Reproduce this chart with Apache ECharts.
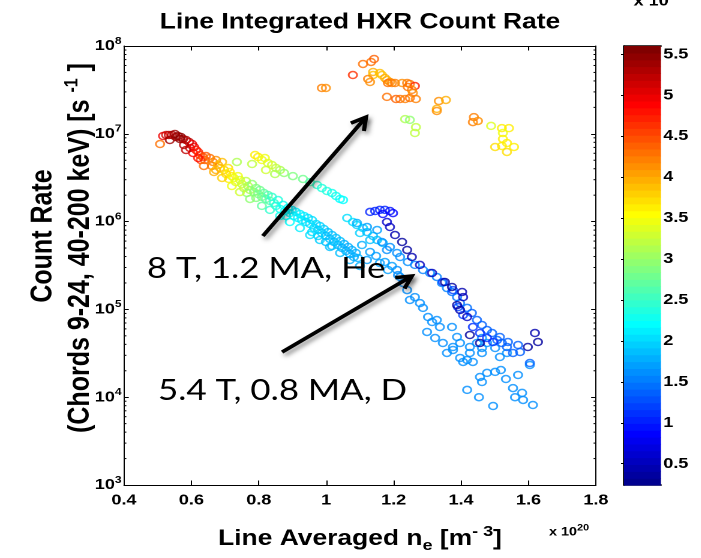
<!DOCTYPE html>
<html>
<head>
<meta charset="utf-8">
<script src="https://cdn.jsdelivr.net/npm/echarts@6/dist/echarts.min.js"></script>
<style>
  html, body { margin: 0; padding: 0; background: #fff; overflow: hidden; }
  /* the source figure is stretched sideways (~1.2x), so draw narrow and widen it */
  #main { width: 584px; height: 558px; transform: scaleX(1.2); transform-origin: 0 0; }
</style>
</head>
<body>
<div id="main"></div>
<script>
// [ line averaged ne (1e20 m^-3), count rate (1/s), colour value ]
var heBand = [
  [0.507,7.65e6,4.3],[0.516,9.44e6,5.0],[0.525,9.69e6,5.1],[0.533,9.69e6,5.2],[0.542,9.69e6,5.3],[0.551,9.95e6,5.4],
  [0.560,9.44e6,5.5],[0.569,9.20e6,5.5],[0.575,8.73e6,5.4],[0.584,8.50e6,5.3],[0.566,8.73e6,5.5],[0.554,9.20e6,5.4],
  [0.593,8.07e6,5.2],[0.602,7.65e6,5.0],[0.596,6.89e6,5.1],[0.608,7.08e6,5.0],[0.614,6.53e6,4.8],[0.605,6.04e6,4.9],
  [0.620,6.21e6,4.7],[0.625,5.74e6,4.6],[0.634,5.44e6,4.5],[0.643,5.58e6,4.5],[0.640,5.03e6,4.4],[0.628,5.03e6,4.6],
  [0.655,5.30e6,4.3],[0.664,4.78e6,4.2],[0.673,5.03e6,4.1],[0.661,4.30e6,4.2],[0.679,4.41e6,4.0],[0.685,4.08e6,3.9],
  [0.691,4.78e6,3.9],[0.673,3.87e6,4.0],[0.697,3.87e6,3.8],[0.703,3.48e6,3.7],[0.709,4.08e6,3.7],[0.714,3.67e6,3.6],
  [0.720,3.30e6,3.6],[0.711,3.06e6,3.6],[0.726,3.14e6,3.5],[0.732,2.82e6,3.4],[0.738,3.30e6,3.5],[0.744,2.98e6,3.4],
  [0.750,2.68e6,3.3],[0.756,2.41e6,3.2],[0.762,2.90e6,3.2],[0.768,2.54e6,3.1],[0.774,2.29e6,3.1],[0.780,2.68e6,3.0],
  [0.786,2.17e6,3.0],[0.792,2.41e6,2.9],[0.798,2.06e6,2.9],[0.803,2.29e6,2.8],[0.809,1.91e6,2.8],[0.815,2.12e6,2.7],
  [0.821,1.81e6,2.7],[0.827,2.01e6,2.6],[0.833,1.72e6,2.6],[0.839,1.91e6,2.5],[0.765,2.12e6,3.0],[0.792,1.86e6,2.9],
  [0.845,1.63e6,2.5],[0.851,1.51e6,2.4],[0.857,1.76e6,2.4],[0.863,1.39e6,2.3],[0.872,1.55e6,2.3],[0.878,1.32e6,2.2],
  [0.886,1.43e6,2.2],[0.892,1.25e6,2.2],[0.898,1.36e6,2.1],[0.904,1.16e6,2.1],[0.910,1.29e6,2.1],[0.916,1.10e6,2.1],
  [0.922,1.22e6,2.1],[0.928,1.04e6,2.1],[0.881,1.16e6,2.2],[0.934,1.16e6,2.1],[0.940,9.89e5,2.05],[0.946,1.10e6,2.05],
  [0.952,9.39e5,2.0],[0.958,1.04e6,2.0],[0.964,8.45e5,2.0],[0.970,9.39e5,2.0],[0.976,8.02e5,1.95],[0.981,8.91e5,1.95],
  [0.987,7.41e5,1.95],[0.993,8.24e5,1.95],[0.999,6.85e5,1.9],[1.005,7.60e5,1.9],[1.011,6.34e5,1.9],[1.017,7.03e5,1.9],
  [1.023,5.86e5,1.85],[1.029,6.50e5,1.85],[1.035,5.41e5,1.85],[1.041,6.01e5,1.85],[1.047,5.00e5,1.8],[1.053,5.56e5,1.8],
  [1.059,4.62e5,1.8],[1.065,5.14e5,1.8],[1.070,4.28e5,1.8],[1.076,4.75e5,1.8],[1.082,3.95e5,1.75],[1.088,4.39e5,1.75],
  [1.094,3.85e5,1.75],[0.958,7.60e5,2.0],[0.976,6.85e5,1.95],[0.999,5.86e5,1.9],[1.017,5.27e5,1.9],[1.106,5.41e5,1.75],
  [1.130,4.51e5,1.7],[1.148,4.06e5,1.7],[1.174,3.47e5,1.7],[1.195,3.12e5,1.7],[1.213,2.46e5,1.65],
  [0.536,8.50e6,5.4],[0.578,7.45e6,5.3],[0.584,6.53e6,5.2],[0.620,5.30e6,4.8],[0.637,4.30e6,4.3],[0.667,3.67e6,4.0],
  [0.691,3.14e6,3.8],[0.720,2.54e6,3.5],[0.744,2.17e6,3.3],[0.774,1.81e6,3.0],[0.809,1.51e6,2.7],[0.833,1.36e6,2.5],
  [0.863,1.16e6,2.3],[0.892,9.89e5,2.2],[0.922,8.45e5,2.1],[0.952,7.03e5,2.0],[0.981,6.17e5,1.95],[1.011,5.14e5,1.9],
  [1.041,4.39e5,1.85],[1.070,3.65e5,1.8],[1.100,3.12e5,1.75]
];
var heBranch = [
  [0.735,4.78e6,3.1],[0.780,4.53e6,3.2],[0.789,5.74e6,3.6],[0.798,5.44e6,3.6],[0.809,5.03e6,3.5],[0.818,5.30e6,3.5],
  [0.827,4.65e6,3.4],[0.839,4.41e6,3.3],[0.821,3.87e6,3.3],[0.851,4.08e6,3.2],[0.848,3.48e6,3.1],[0.863,3.87e6,3.1],
  [0.875,3.58e6,3.0],[0.901,3.30e6,2.9],[0.931,3.06e6,2.8],[0.952,2.82e6,2.6],[0.973,2.61e6,2.5],[0.987,2.41e6,2.4],
  [1.002,2.23e6,2.4],[1.017,2.12e6,2.3],[1.029,1.96e6,2.3],[1.041,1.81e6,2.2],[1.050,1.76e6,2.2],[1.062,1.10e6,2.0],
  [1.079,9.89e5,2.0],[1.091,9.14e5,1.95],[1.109,8.45e5,1.95],[1.100,7.41e5,1.95],[1.121,7.60e5,1.9],[1.139,6.85e5,1.9],
  [1.130,6.17e5,1.9],[1.151,6.17e5,1.9],[1.168,5.71e5,1.85]
];
var heHigh = [
  [0.987,3.32e7,4.2],[0.999,3.32e7,4.1],[1.079,4.67e7,4.6],[1.109,6.24e7,4.3],[1.133,6.58e7,4.3],[1.142,7.11e7,4.4],
  [1.139,5.06e7,4.0],[1.139,4.67e7,3.9],[1.124,4.21e7,4.2],[1.130,3.89e7,4.1],[1.159,4.92e7,3.9],[1.165,4.67e7,3.9],
  [1.174,4.32e7,4.0],[1.180,4.10e7,4.0],[1.189,3.89e7,4.1],[1.195,3.79e7,4.2],[1.183,3.79e7,4.3],[1.204,3.79e7,4.2],
  [1.225,3.79e7,4.1],[1.240,3.79e7,4.2],[1.248,3.69e7,4.3],[1.263,3.50e7,4.7],[1.242,3.41e7,4.3],[1.254,3.16e7,4.2],
  [1.257,2.92e7,4.1],[1.180,2.63e7,4.3],[1.207,2.49e7,4.4],[1.219,2.49e7,4.3],[1.234,2.49e7,4.2],[1.248,2.56e7,4.3],
  [1.266,2.49e7,4.2],[1.334,2.36e7,4.1],[1.355,2.43e7,4.0],[1.328,1.92e7,4.0],[1.328,1.82e7,4.1],[1.234,1.47e7,3.1],
  [1.248,1.44e7,3.0],[1.266,1.19e7,3.2],[1.263,1.02e7,3.2],[1.438,1.55e7,4.2],[1.435,1.36e7,4.2],[1.450,1.40e7,4.1],
  [1.489,1.23e7,3.4],[1.521,1.16e7,3.6],[1.542,1.16e7,3.6],[1.524,1.02e7,3.5],[1.524,8.73e6,3.6],[1.536,7.85e6,3.6],
  [1.521,7.26e6,3.6],[1.501,7.08e6,3.7],[1.557,7.08e6,3.6],[1.536,6.21e6,3.7]
];
var dTrack = [
  [1.130,1.29e6,1.0],[1.145,1.32e6,1.0],[1.159,1.36e6,1.05],[1.174,1.36e6,1.0],[1.189,1.32e6,0.95],[1.198,1.25e6,0.9],
  [1.168,1.22e6,0.85],[1.180,9.89e5,0.6],[1.189,8.67e5,0.5],[1.204,7.03e5,0.45],[1.225,5.86e5,0.4],[1.240,4.75e5,0.4],
  [1.254,3.95e5,0.45],[1.278,3.21e5,0.5],[1.314,2.60e5,0.5],[1.352,2.05e5,0.35],[1.373,1.80e5,0.4],[1.403,1.58e5,0.45],
  [1.406,1.38e5,0.5],[1.388,1.12e5,0.35],[1.397,9.85e4,0.45],[1.418,8.19e4,0.5],[1.426,5.11e4,0.4],[1.456,4.14e4,0.35],
  [1.598,3.73e4,0.4],[1.619,5.38e4,0.45],[1.628,4.25e4,0.4]
];
var dUpper = [
  [1.091,9.64e5,1.75],[1.121,8.67e5,1.7],[1.151,8.02e5,1.7],[1.165,5.86e5,1.65],[1.189,5.14e5,1.65],[1.180,4.75e5,1.65],
  [1.210,4.39e5,1.6],[1.219,3.95e5,1.6],[1.242,3.47e5,1.6],[1.263,3.21e5,1.55],[1.287,2.81e5,1.55],[1.308,2.60e5,1.55],
  [1.328,2.34e5,1.5],[1.343,2.00e5,1.5],[1.358,1.75e5,1.5],[1.373,1.58e5,1.45],[1.388,1.38e5,1.45],[1.397,1.18e5,1.45],
  [1.418,1.04e5,1.45],[1.432,9.10e4,1.4],[1.447,7.57e4,1.4],[1.462,6.64e4,1.4],[1.477,5.82e4,1.4],[1.492,5.38e4,1.4],
  [1.507,4.48e4,1.4],[1.521,4.14e4,1.4],[1.536,3.73e4,1.4],[1.554,3.19e4,1.4],[1.575,3.27e4,1.4],[1.604,2.45e4,1.4],
  [1.515,4.85e4,1.4],[1.539,4.25e4,1.4],[1.569,3.93e4,1.4]
];
var dMid = [
  [1.346,2.05e5,1.2],[1.376,1.66e5,1.2],[1.391,1.06e5,1.2],[1.406,8.63e4,1.2],[1.435,6.30e4,1.15],[1.456,5.38e4,1.15],
  [1.477,4.72e4,1.15],[1.495,4.25e4,1.15]
];
var dLower = [
  [1.121,3.65e5,1.7],[1.159,3.38e5,1.7],[1.183,2.81e5,1.7],[1.210,2.81e5,1.65],[1.219,2.34e5,1.65],[1.228,2.00e5,1.65],
  [1.240,1.66e5,1.65],[1.248,1.28e5,1.65],[1.263,1.38e5,1.6],[1.278,1.18e5,1.6],[1.287,1.04e5,1.6],[1.302,8.19e4,1.6],
  [1.314,7.18e4,1.6],[1.328,7.57e4,1.6],[1.337,6.30e4,1.6],[1.373,6.30e4,1.6],[1.388,4.85e4,1.6],[1.397,4.14e4,1.6],
  [1.376,3.73e4,1.6],[1.426,3.73e4,1.6],[1.447,4.14e4,1.6],[1.462,3.63e4,1.6],[1.299,5.53e4,1.6],[1.323,4.72e4,1.6],
  [1.346,4.14e4,1.6],[1.358,3.19e4,1.6],[1.376,3.45e4,1.6],[1.397,2.80e4,1.6],[1.406,2.52e4,1.6],[1.418,2.65e4,1.6],
  [1.426,3.19e4,1.6],[1.435,2.52e4,1.6],[1.462,3.19e4,1.6],[1.456,1.70e4,1.6],[1.462,1.49e4,1.6],[1.418,1.21e4,1.6],
  [1.453,1.00e4,1.6],[1.495,7.94e3,1.6],[1.477,1.89e4,1.6],[1.501,1.94e4,1.6],[1.518,2.04e4,1.6],[1.533,1.61e4,1.6],
  [1.554,1.27e4,1.6],[1.560,1.00e4,1.6],[1.581,1.12e4,1.6],[1.584,9.30e3,1.6],[1.613,8.15e3,1.6],[1.569,1.79e4,1.6],
  [1.604,2.33e4,1.6],[1.515,2.87e4,1.6],[1.536,3.19e4,1.6],[1.501,3.63e4,1.6],[1.477,4.14e4,1.6],[1.462,4.72e4,1.6]
];

var xMin = 0.4, xMax = 1.8, xStep = 0.2;
var yMin = 1e3, yMax = 1e8;
var cMin = 0.24, cMax = 5.6, nColors = 64;
var colorTicks = [0.5, 1, 1.5, 2, 2.5, 3, 3.5, 4, 4.5, 5, 5.5];

// annotations, anchored in data space
var arrows = [
  { from: [0.812, 6.85e5], to: [1.118, 1.55e7] },
  { from: [0.869, 3.27e4], to: [1.254, 2.40e5] }
];
var notes = [
  { text: '8 T, 1.2 MA, He', at: [0.468, 2.16e5] },
  { text: '5.4 T, 0.8 MA, D', at: [0.501, 8.81e3] }
];

var FONT = "'Liberation Sans', Arial, Helvetica, sans-serif";

// matlab style jet(64)
function jet(t) {
  function c(v) { return Math.round(255 * Math.max(0, Math.min(1, v))); }
  return 'rgb(' + c(1.5 - Math.abs(4 * t - 3)) + ',' + c(1.5 - Math.abs(4 * t - 2)) + ',' + c(1.5 - Math.abs(4 * t - 1)) + ')';
}
var palette = [];
for (var i = 0; i < nColors; i++) palette.push(jet((i + 1) / nColors));
function colorOf(v) {
  var k = Math.floor((v - cMin) / (cMax - cMin) * nColors);
  return palette[Math.max(0, Math.min(nColors - 1, k))];
}
function toPoints(arr) {
  return arr.map(function (p) {
    return { value: [p[0], p[1]], itemStyle: { color: 'rgba(0,0,0,0)', borderColor: colorOf(p[2]), borderWidth: 1.5 } };
  });
}

var bands = [];
for (var i = 0; i < nColors; i++) {
  bands.push([0, cMin + i * (cMax - cMin) / nColors, cMin + (i + 1) * (cMax - cMin) / nColors, i]);
}
var minorVals = [];
for (var d = 3; d < 8; d++) {
  for (var m = 2; m <= 9; m++) minorVals.push([xMin, m * Math.pow(10, d)]);
}

var G = { left: 103.3, top: 46, width: 393.3, height: 439 };
var CB = { left: 520, top: 46, width: 30.8, height: 439 };
var black = { color: '#000', width: 1 };

var myChart = echarts.init(document.getElementById('main'), null, { renderer: 'canvas', devicePixelRatio: 2 });

var scatterSeries = [heBand, heBranch, heHigh, dLower, dUpper, dMid, dTrack].map(function (arr) {
  return {
    type: 'scatter', xAxisIndex: 0, yAxisIndex: 0,
    symbol: 'circle', symbolSize: 7, silent: true, progressive: 0,
    emphasis: { disabled: true },
    data: toPoints(arr)
  };
});

var option = {
  animation: false,
  backgroundColor: '#fff',
  grid: [
    { left: G.left, top: G.top, width: G.width, height: G.height },
    { left: CB.left, top: CB.top, width: CB.width, height: CB.height }
  ],
  xAxis: [
    {
      type: 'value', gridIndex: 0, min: xMin, max: xMax, interval: xStep, position: 'bottom',
      axisLine: { lineStyle: black }, splitLine: { show: false },
      axisTick: { inside: true, length: 4.5, lineStyle: black },
      axisLabel: { color: '#000', fontFamily: FONT, fontSize: 15, fontWeight: 'bold', margin: 8 }
    },
    {
      type: 'value', gridIndex: 0, min: xMin, max: xMax, interval: xStep, position: 'top',
      axisLine: { lineStyle: black }, splitLine: { show: false },
      axisTick: { inside: true, length: 4.5, lineStyle: black }, axisLabel: { show: false }
    },
    {
      type: 'value', gridIndex: 1, min: 0, max: 1, position: 'bottom',
      axisLine: { lineStyle: { color: '#000', width: 1.5 } }, splitLine: { show: false },
      axisTick: { show: false }, axisLabel: { show: false }
    },
    {
      type: 'value', gridIndex: 1, min: 0, max: 1, position: 'top',
      axisLine: { lineStyle: { color: '#000', width: 1.5 } }, splitLine: { show: false },
      axisTick: { show: false }, axisLabel: { show: false }
    }
  ],
  yAxis: [
    {
      type: 'log', logBase: 10, gridIndex: 0, min: yMin, max: yMax, position: 'left',
      axisLine: { lineStyle: black }, splitLine: { show: false },
      axisTick: { inside: true, length: 4, lineStyle: black },
      axisLabel: {
        margin: 2,
        formatter: function (v) { return '{b|10}{s|' + Math.round(Math.log10(v)) + '}'; },
        rich: {
          b: { fontFamily: FONT, fontSize: 15, fontWeight: 'bold', color: '#000' },
          s: { fontFamily: FONT, fontSize: 10, fontWeight: 'bold', color: '#000', padding: [0, 0, 10, 0] }
        }
      }
    },
    {
      type: 'log', logBase: 10, gridIndex: 0, min: yMin, max: yMax, position: 'right',
      axisLine: { lineStyle: black }, splitLine: { show: false },
      axisTick: { inside: true, length: 4, lineStyle: black }, axisLabel: { show: false }
    },
    {
      type: 'value', gridIndex: 1, min: cMin, max: cMax, position: 'right',
      axisLine: { lineStyle: { color: '#000', width: 1.5 } }, splitLine: { show: false },
      axisTick: { inside: true, length: 2.5, lineStyle: black, customValues: colorTicks },
      axisLabel: { customValues: colorTicks, color: '#000', fontFamily: FONT, fontSize: 15, fontWeight: 'bold', margin: 2 }
    },
    {
      type: 'value', gridIndex: 1, min: cMin, max: cMax, position: 'left',
      axisLine: { lineStyle: { color: '#000', width: 1.5 } }, splitLine: { show: false },
      axisTick: { inside: true, length: 2.5, lineStyle: black, customValues: colorTicks },
      axisLabel: { show: false }
    }
  ],
  series: scatterSeries.concat([
    {
      // log minor ticks on left and right edges
      type: 'custom', xAxisIndex: 0, yAxisIndex: 0, silent: true,
      encode: { x: 0, y: 1 },
      data: minorVals,
      renderItem: function (params, api) {
        var p = api.coord([api.value(0), api.value(1)]);
        var cs = params.coordSys;
        return {
          type: 'group', children: [
            { type: 'line', shape: { x1: cs.x, y1: p[1], x2: cs.x + 2, y2: p[1] }, style: { stroke: '#000', lineWidth: 1 } },
            { type: 'line', shape: { x1: cs.x + cs.width - 2, y1: p[1], x2: cs.x + cs.width, y2: p[1] }, style: { stroke: '#000', lineWidth: 1 } }
          ]
        };
      }
    },
    {
      // colour bar
      type: 'custom', xAxisIndex: 2, yAxisIndex: 2, silent: true, z: 1,
      encode: { x: 0, y: [1, 2] },
      data: bands,
      renderItem: function (params, api) {
        var lo = api.coord([0, api.value(1)]);
        var hi = api.coord([1, api.value(2)]);
        return {
          type: 'rect',
          shape: { x: lo[0], y: hi[1], width: hi[0] - lo[0], height: lo[1] - hi[1] + 0.6 },
          style: { fill: palette[api.value(3)] }
        };
      }
    }
  ]),
  graphic: [
    {
      type: 'text', x: 300, y: 22.5,
      style: { text: 'Line Integrated HXR Count Rate', fontFamily: FONT, fontSize: 22, fontWeight: 'bold', fill: '#000', align: 'center', verticalAlign: 'middle' }
    },
    {
      type: 'text', x: 528, y: 1.5,
      style: { text: 'x 10', fontFamily: FONT, fontSize: 15, fontWeight: 'bold', fill: '#000', align: 'left', verticalAlign: 'middle' }
    },
    {
      type: 'text', x: 300, y: 539,
      style: {
        text: 'Line Averaged n{sub|e} [m{sup|- 3}]', fontFamily: FONT, fontSize: 22, fontWeight: 'bold', fill: '#000', align: 'center', verticalAlign: 'middle',
        rich: {
          sub: { fontFamily: FONT, fontSize: 15, fontWeight: 'bold', fill: '#000', padding: [14, 0, 0, 0] },
          sup: { fontFamily: FONT, fontSize: 15, fontWeight: 'bold', fill: '#000', padding: [0, 0, 14, 0] }
        }
      }
    },
    {
      type: 'text', x: 457.5, y: 532,
      style: {
        text: 'x 10{s|20}', fontFamily: FONT, fontSize: 12, fontWeight: 'bold', fill: '#000', align: 'left', verticalAlign: 'middle',
        rich: { s: { fontFamily: FONT, fontSize: 9, fontWeight: 'bold', fill: '#000', padding: [0, 0, 8, 0] } }
      }
    },
    {
      type: 'text', x: 36, y: 236, rotation: Math.PI / 2,
      style: { text: 'Count Rate', fontFamily: FONT, fontSize: 25, fontWeight: 'bold', fill: '#000', align: 'center', verticalAlign: 'middle' }
    },
    {
      type: 'text', x: 67, y: 248, rotation: Math.PI / 2,
      style: {
        text: '(Chords 9-24, 40-200 keV) [s {sup|-1} ]', fontFamily: FONT, fontSize: 25, fontWeight: 'bold', fill: '#000', align: 'center', verticalAlign: 'middle',
        rich: { sup: { fontFamily: FONT, fontSize: 16, fontWeight: 'bold', fill: '#000', padding: [0, 0, 14, 0] } }
      }
    }
  ]
};
myChart.setOption(option);

// arrows and notes, placed through the axes
var overlay = [];
var arrowStyle = {
  stroke: '#000', lineWidth: 3.5, fill: null, lineJoin: 'miter', lineCap: 'butt',
  shadowBlur: 4, shadowColor: 'rgba(0,0,0,0.45)', shadowOffsetX: 2, shadowOffsetY: 3
};
arrows.forEach(function (a) {
  var p0 = myChart.convertToPixel({ xAxisIndex: 0, yAxisIndex: 0 }, a.from);
  var p1 = myChart.convertToPixel({ xAxisIndex: 0, yAxisIndex: 0 }, a.to);
  var ang = Math.atan2(p1[1] - p0[1], p1[0] - p0[0]);
  var L = 14, h = 0.5;
  var w1 = [p1[0] - L * Math.cos(ang - h), p1[1] - L * Math.sin(ang - h)];
  var w2 = [p1[0] - L * Math.cos(ang + h), p1[1] - L * Math.sin(ang + h)];
  overlay.push({ type: 'polyline', z: 100, shape: { points: [p0, p1] }, style: arrowStyle });
  overlay.push({ type: 'polyline', z: 100, shape: { points: [w1, p1, w2] }, style: arrowStyle });
});
notes.forEach(function (n) {
  var p = myChart.convertToPixel({ xAxisIndex: 0, yAxisIndex: 0 }, n.at);
  overlay.push({
    type: 'text', z: 100, x: p[0], y: p[1] - 11.2,
    style: { text: n.text, fontFamily: 'Lato, sans-serif', fontSize: 29, fill: '#000', align: 'left', verticalAlign: 'middle' }
  });
});
myChart.setOption({ graphic: option.graphic.concat(overlay) });
</script>
</body>
</html>
